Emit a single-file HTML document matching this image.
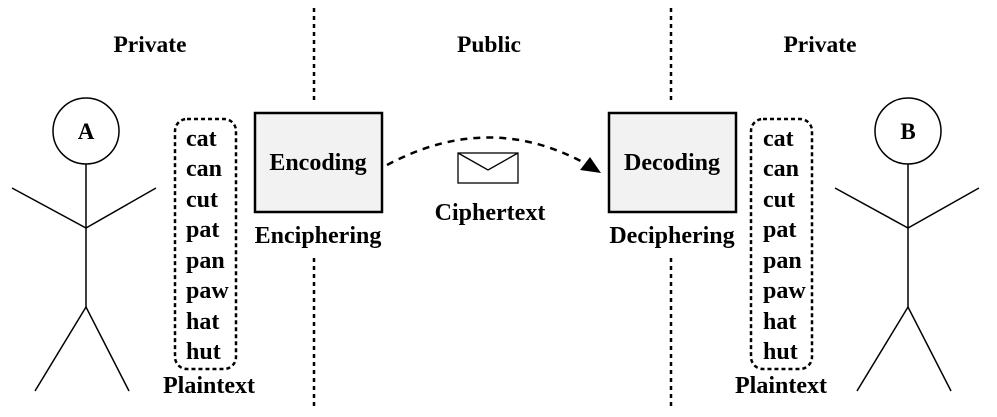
<!DOCTYPE html>
<html><head><style>
body{margin:0;background:#fff}
svg text{font-family:"Liberation Serif",serif;font-weight:bold;fill:#000}
</style></head><body>
<svg width="997" height="412" viewBox="0 0 997 412" xmlns="http://www.w3.org/2000/svg">
<g stroke="#000" stroke-width="2.5" stroke-dasharray="4,4" fill="none">
<line x1="314" y1="8" x2="314" y2="102"/><line x1="314" y1="258" x2="314" y2="410"/>
<line x1="671" y1="8" x2="671" y2="102"/><line x1="671" y1="258" x2="671" y2="410"/>
</g>
<g font-size="23.5" text-anchor="middle">
<text x="150" y="52">Private</text><text x="489" y="52">Public</text><text x="820" y="52">Private</text>
</g>
<g stroke="#000" stroke-width="1.5" fill="none">
<circle cx="86" cy="131" r="33"/>
<line x1="86" y1="164" x2="86" y2="307"/>
<polyline points="12,188 86,228 156,188"/>
<polyline points="35,391 86,307 129,391"/>
<circle cx="908" cy="131" r="33"/>
<line x1="908" y1="164" x2="908" y2="307"/>
<polyline points="835,188 908,228 979,188"/>
<polyline points="857,391 908,307 951,391"/>
</g>
<text x="86" y="139" font-size="23" text-anchor="middle">A</text>
<text x="908" y="139" font-size="23" text-anchor="middle">B</text>
<g stroke="#000" stroke-width="2.5" stroke-dasharray="4,3" fill="none">
<rect x="175" y="119" width="61" height="250" rx="12"/>
<rect x="751" y="119" width="61" height="250" rx="12"/>
</g>
<g font-size="24">
<text x="186" y="146">cat</text><text x="186" y="176">can</text><text x="186" y="207">cut</text><text x="186" y="237">pat</text><text x="186" y="268">pan</text><text x="186" y="298">paw</text><text x="186" y="329">hat</text><text x="186" y="359">hut</text>
<text x="763" y="146">cat</text><text x="763" y="176">can</text><text x="763" y="207">cut</text><text x="763" y="237">pat</text><text x="763" y="268">pan</text><text x="763" y="298">paw</text><text x="763" y="329">hat</text><text x="763" y="359">hut</text>
</g>
<g font-size="24" text-anchor="middle">
<text x="209" y="393">Plaintext</text><text x="781" y="393">Plaintext</text>
</g>
<rect x="255" y="113" width="127" height="99" fill="#f2f2f2" stroke="#000" stroke-width="2.5"/>
<rect x="609" y="113" width="127" height="99" fill="#f2f2f2" stroke="#000" stroke-width="2.5"/>
<g font-size="24" text-anchor="middle">
<text x="318" y="170">Encoding</text><text x="672" y="170">Decoding</text>
<text x="318" y="243">Enciphering</text><text x="672" y="243">Deciphering</text>
<text x="490" y="220">Ciphertext</text>
</g>
<path d="M387,165 Q490,110 588,165" stroke="#000" stroke-width="2.5" stroke-dasharray="7,6" fill="none"/>
<polygon points="601,173 580,170 590,157" fill="#000"/>
<rect x="458" y="153" width="60" height="30" fill="none" stroke="#000" stroke-width="1.3"/>
<polyline points="458,153 488,170 518,153" fill="none" stroke="#000" stroke-width="1.3"/>
</svg>
</body></html>
